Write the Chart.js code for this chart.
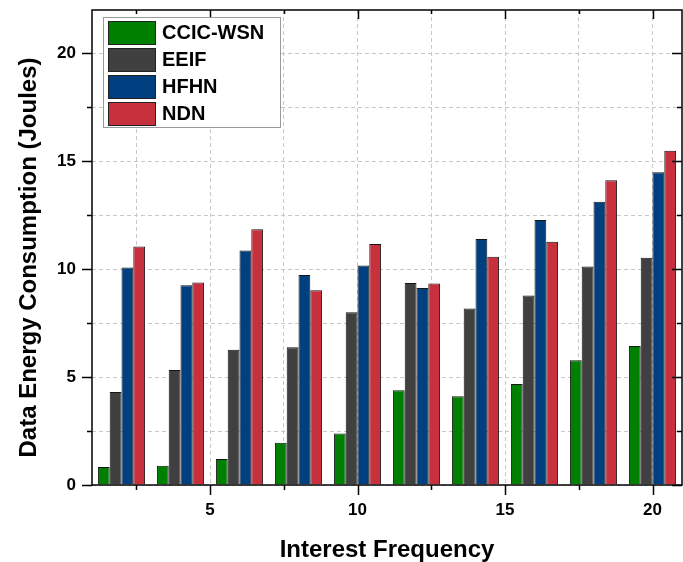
<!DOCTYPE html>
<html>
<head>
<meta charset="utf-8">
<script src="https://cdn.jsdelivr.net/npm/chart.js@4.4.1/dist/chart.umd.min.js"></script>
<style>
  html, body { margin: 0; padding: 0; background: #fff; }
  #wrap { width: 683px; height: 562px; }
</style>
</head>
<body>
<div id="wrap"><canvas id="myChart" width="683" height="562"></canvas></div>
<script>
// * data
const frequencies = [2, 4, 6, 8, 10, 12, 14, 16, 18, 20];
const ccicWsn = [0.83, 0.89, 1.2, 1.96, 2.38, 4.39, 4.11, 4.68, 5.78, 6.44];
const eeif = [4.31, 5.33, 6.26, 6.38, 8.0, 9.36, 8.17, 8.78, 10.12, 10.52];
const hfhn = [10.07, 9.25, 10.86, 9.73, 10.17, 9.13, 11.39, 12.27, 13.12, 14.49];
const ndn = [11.05, 9.38, 11.84, 9.02, 11.16, 9.33, 10.57, 11.27, 14.11, 15.48];

const seriesNames = ["CCIC-WSN", "EEIF", "HFHN", "NDN"];
const seriesColors = ["#008000", "#404040", "#003f80", "#c8303e"];
const xTicks = [5, 10, 15, 20];
const yTicks = [0, 5, 10, 15, 20];
const xGrid = [2.5, 5, 7.5, 10, 12.5, 15, 17.5, 20];
const yGrid = [0, 2.5, 5, 7.5, 10, 12.5, 15, 17.5, 20];

const FONT = "'Liberation Sans', Arial, sans-serif";

function points(vals) {
  return vals.map((v, i) => ({ x: frequencies[i], y: v }));
}

const datasets = [ccicWsn, eeif, hfhn, ndn].map((vals, i) => ({
  label: seriesNames[i],
  data: points(vals),
  backgroundColor: seriesColors[i],
  borderColor: "#151515",
  borderWidth: 1,
  categoryPercentage: 0.8,
  barPercentage: 1.0,
}));

// * frame, ticks and legend box like the origin plot
const framePlugin = {
  id: "frame",
  afterDraw(chart) {
    const { ctx, chartArea: a, scales } = chart;
    const xs = scales.x, ys = scales.y;
    ctx.save();
    ctx.strokeStyle = "#000";
    ctx.lineWidth = 1.5;
    ctx.strokeRect(a.left, a.top, a.right - a.left, a.bottom - a.top);

    ctx.beginPath();
    xGrid.forEach((v) => {
      const px = Math.round(xs.getPixelForValue(v)) + 0.5;
      const len = xTicks.includes(v) ? 10 : 5;
      ctx.moveTo(px, a.bottom);
      ctx.lineTo(px, a.bottom + len);
      ctx.moveTo(px, a.top);
      ctx.lineTo(px, a.top + len - 1);
    });
    yGrid.forEach((v) => {
      const py = Math.round(ys.getPixelForValue(v)) + 0.5;
      const len = yTicks.includes(v) ? 10 : 5;
      ctx.moveTo(a.left, py);
      ctx.lineTo(a.left - len, py);
      ctx.moveTo(a.right, py);
      ctx.lineTo(a.right - len, py);
    });
    ctx.stroke();

    // legend
    const lx = 103, ly = 17, lw = 177, lh = 110;
    ctx.fillStyle = "#fff";
    ctx.fillRect(lx, ly, lw, lh);
    ctx.strokeStyle = "#9a9a9a";
    ctx.lineWidth = 1;
    ctx.strokeRect(lx + 0.5, ly + 0.5, lw, lh);
    ctx.font = "bold 20px " + FONT;
    ctx.textBaseline = "middle";
    chart.data.datasets.forEach((ds, i) => {
      const by = 21 + i * 27;
      ctx.fillStyle = ds.backgroundColor;
      ctx.fillRect(108, by, 47, 23);
      ctx.strokeStyle = "#222";
      ctx.strokeRect(108.5, by + 0.5, 47, 23);
      ctx.fillStyle = "#000";
      ctx.fillText(ds.label, 162, by + 12.5);
    });
    ctx.restore();
  },
};

const config = {
  type: "bar",
  data: { datasets: datasets },
  options: {
    responsive: false,
    animation: false,
    layout: { padding: { top: 10, right: 1, left: 0, bottom: 0 } },
    plugins: {
      legend: { display: false },
      tooltip: { enabled: false },
    },
    scales: {
      x: {
        type: "linear",
        min: 1,
        max: 21,
        offset: false,
        afterBuildTicks: (s) => { s.ticks = xGrid.map((v) => ({ value: v })); },
        afterFit: (s) => { s.height = 77; s.paddingLeft = 0; s.paddingRight = 0; },
        grid: {
          offset: false,
          drawTicks: false,
          color: "#c8c8c8",
          lineWidth: 1,
        },
        border: { display: false, dash: [4, 3] },
        ticks: {
          autoSkip: false,
          maxRotation: 0,
          padding: 15,
          color: "#000",
          font: { family: FONT, size: 17, weight: "bold" },
          callback: (v) => (xTicks.includes(v) ? String(v) : ""),
        },
        title: {
          display: true,
          text: "Interest Frequency",
          color: "#000",
          font: { family: FONT, size: 24, weight: "bold" },
          padding: { top: 0, bottom: -3 },
        },
      },
      y: {
        min: 0,
        max: 22,
        afterBuildTicks: (s) => { s.ticks = yGrid.map((v) => ({ value: v })); },
        afterFit: (s) => { s.width = 92; s.paddingTop = 0; s.paddingBottom = 0; },
        grid: {
          drawTicks: false,
          color: "#c8c8c8",
          lineWidth: 1,
        },
        border: { display: false, dash: [4, 3] },
        ticks: {
          autoSkip: false,
          padding: 16,
          color: "#000",
          font: { family: FONT, size: 17, weight: "bold" },
          callback: (v) => (yTicks.includes(v) ? String(v) : ""),
        },
        title: {
          display: true,
          // trailing spaces nudge the title a bit down, as in the original
          text: "Data Energy Consumption (Joules)\u00a0\u00a0\u00a0",
          color: "#000",
          font: { family: FONT, size: 24, weight: "bold" },
          padding: { top: 15, bottom: 0 },
        },
      },
    },
  },
  plugins: [framePlugin],
};

const chart = new Chart("myChart", config);
</script>
</body>
</html>
